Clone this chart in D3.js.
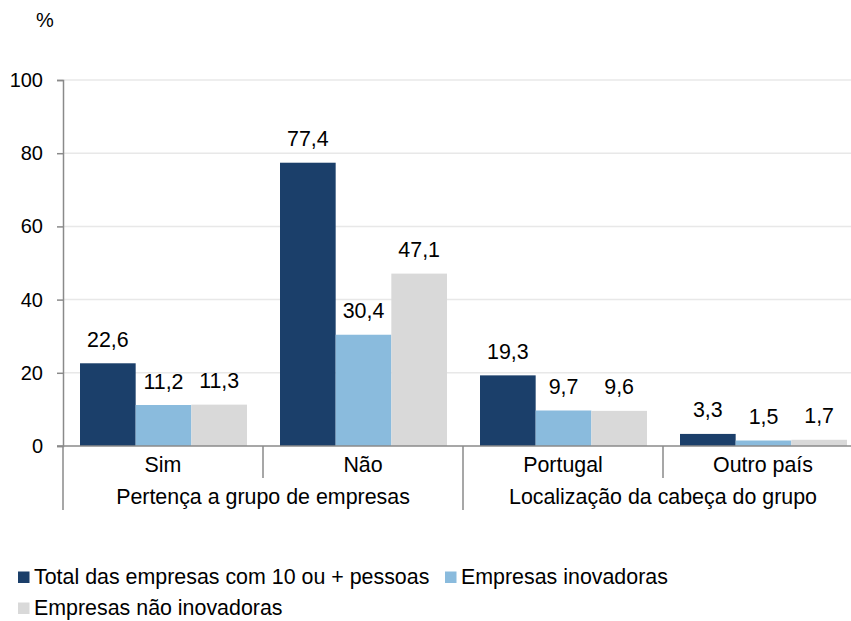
<!DOCTYPE html>
<html><head><meta charset="utf-8">
<script src="https://cdn.jsdelivr.net/npm/d3@7"></script>
<style>
body{margin:0;background:#fff;}
svg{display:block;font-family:"Liberation Sans",Arial,sans-serif;}
</style></head>
<body>
<svg id="chart" width="851" height="621"></svg>
<script>
const categories = ["Sim", "Não", "Portugal", "Outro país"];
const groups = ["Pertença a grupo de empresas", "Localização da cabeça do grupo"];
const groupOf = [0, 0, 1, 1];
const seriesNames = ["Total das empresas com 10 ou + pessoas", "Empresas inovadoras", "Empresas não inovadoras"];
const totalValues = [22.6, 77.4, 19.3, 3.3];
const inovValues = [11.2, 30.4, 9.7, 1.5];
const naoInovValues = [11.3, 47.1, 9.6, 1.7];
const yTicks = [0, 20, 40, 60, 80, 100];
const colors = ["#1b3f6a", "#8abbdd", "#d9d9d9"];

const seriesValues = [totalValues, inovValues, naoInovValues];
const fmt = v => v.toFixed(1).replace(".", ",");

const svg = d3.select("#chart");
const plotLeft = 63, plotRight = 863, plotTop = 80, plotBottom = 446;
const fsTick = 20, fs = 21.4;

const x0 = d3.scaleBand().domain(categories).range([plotLeft, plotRight]).padding(0);
const x1 = d3.scaleBand().domain(seriesNames).range([17, 184]).padding(0);
const y = d3.scaleLinear().domain([0, 100]).range([plotBottom, plotTop]);

// gridlines
svg.append("g").selectAll("line").data(yTicks.filter(t => t > 0)).join("line")
  .attr("x1", plotLeft).attr("x2", 851)
  .attr("y1", d => y(d)).attr("y2", d => y(d))
  .attr("stroke", "#e8e8e8").attr("stroke-width", 1.5);

// bars
const gCat = svg.append("g").selectAll("g").data(categories).join("g")
  .attr("transform", d => `translate(${x0(d)},0)`);
gCat.selectAll("rect").data((d, i) => seriesNames.map((s, j) => ({s, j, v: seriesValues[j][i]})))
  .join("rect")
  .attr("x", d => x1(d.s)).attr("width", x1.bandwidth())
  .attr("y", d => y(d.v)).attr("height", d => y(0) - y(d.v))
  .attr("fill", d => colors[d.j]);
gCat.selectAll("text").data((d, i) => seriesNames.map((s, j) => ({s, j, v: seriesValues[j][i]})))
  .join("text")
  .attr("x", d => x1(d.s) + x1.bandwidth() / 2)
  .attr("y", d => y(d.v) - 16.5)
  .attr("text-anchor", "middle").attr("font-size", fs).attr("fill", "#000")
  .text(d => fmt(d.v));

// y axis
const yAxis = svg.append("g").attr("transform", `translate(${plotLeft},0)`)
  .call(d3.axisLeft(y).tickValues(yTicks).tickSize(6).tickPadding(14).tickFormat(d3.format("d")));
yAxis.select(".domain").attr("stroke", "#8a8a8a").attr("stroke-width", 1.5);
yAxis.selectAll(".tick line").attr("stroke", "#8a8a8a").attr("stroke-width", 1.5);
yAxis.selectAll(".tick text").attr("font-size", fsTick).attr("font-family", "Liberation Sans, Arial, sans-serif").attr("fill", "#000");

// x axis baseline
svg.append("line").attr("x1", plotLeft - 6).attr("x2", 851).attr("y1", y(0)).attr("y2", y(0))
  .attr("stroke", "#8a8a8a").attr("stroke-width", 1.5);

// separators
const bounds = categories.map(c => x0(c)).concat([plotRight]);
svg.append("g").selectAll("line").data(bounds).join("line")
  .attr("x1", d => d).attr("x2", d => d)
  .attr("y1", y(0))
  .attr("y2", (d, i) => (i === 0 || i === bounds.length - 1 || groupOf[i] !== groupOf[i - 1]) ? 510 : 478)
  .attr("stroke", "#8a8a8a").attr("stroke-width", 1.5);

// category labels
svg.append("g").selectAll("text").data(categories).join("text")
  .attr("x", d => x0(d) + x0.bandwidth() / 2).attr("y", 472)
  .attr("text-anchor", "middle").attr("font-size", fs).attr("fill", "#000")
  .text(d => d);

// group labels
svg.append("g").selectAll("text").data(groups).join("text")
  .attr("x", (g, gi) => {
    const cats = categories.filter((c, i) => groupOf[i] === gi);
    return (x0(cats[0]) + x0(cats[cats.length - 1]) + x0.bandwidth()) / 2;
  })
  .attr("y", 504).attr("text-anchor", "middle").attr("font-size", fs).attr("fill", "#000")
  .text(d => d);

// unit label
svg.append("text").attr("x", 45).attr("y", 27).attr("text-anchor", "middle")
  .attr("font-size", fsTick).attr("fill", "#000").text("%");

// legend
const legendPos = [[18, 584], [445, 584], [18, 615]];
const lg = svg.append("g").selectAll("g").data(seriesNames).join("g")
  .attr("transform", (d, i) => `translate(${legendPos[i][0]},${legendPos[i][1]})`);
lg.append("rect").attr("x", 0).attr("y", -12.5).attr("width", 11.5).attr("height", 11.5)
  .attr("fill", (d, i) => colors[i]);
lg.append("text").attr("x", 16).attr("y", 0).attr("font-size", fs).attr("fill", "#000").text(d => d);
</script>
</body></html>
